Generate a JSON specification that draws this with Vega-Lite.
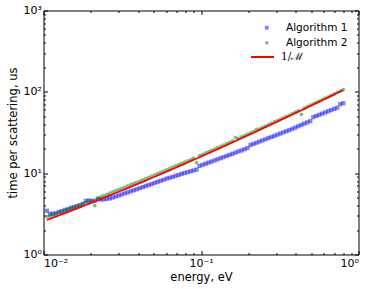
{
"$schema": "https://vega.github.io/schema/vega-lite/v6.json",
"width": 315, "height": 244,
"autosize": "none",
"padding": {"left": 43.5, "top": 10.5, "right": 15.5, "bottom": 34.5},
"background": "white",
"config": {
  "view": {"stroke": "#000", "strokeWidth": 1},
  "font": "DejaVu Sans",
  "axis": {"domain": false, "grid": false, "tickColor": "#000", "tickWidth": 1, "labelColor": "#000", "titleColor": "#000", "labelFont": "DejaVu Sans", "titleFont": "DejaVu Sans", "labelFontSize": 11, "titleFontSize": 11.5, "titleFontWeight": "normal"},
  "legend": {"labelFontSize": 10.5, "labelColor": "#000", "labelLimit": 200, "title": null}
},
"data": {"values": [
{"e":0.0105,"a1":3.45,"a2":2.92,"m":2.654},
{"e":0.01097,"a1":3.15,"a2":2.96,"m":2.740},
{"e":0.01146,"a1":3.17,"a2":3.05,"m":2.829},
{"e":0.01197,"a1":3.21,"a2":3.15,"m":2.922},
{"e":0.01251,"a1":3.35,"a2":3.25,"m":3.018},
{"e":0.01307,"a1":3.40,"a2":3.36,"m":3.117},
{"e":0.01365,"a1":3.54,"a2":3.46,"m":3.220},
{"e":0.01427,"a1":3.59,"a2":3.58,"m":3.327},
{"e":0.01490,"a1":3.75,"a2":3.70,"m":3.438},
{"e":0.01557,"a1":3.80,"a2":3.82,"m":3.553},
{"e":0.01627,"a1":3.93,"a2":3.94,"m":3.672},
{"e":0.01700,"a1":4.02,"a2":4.07,"m":3.796},
{"e":0.01776,"a1":4.20,"a2":4.21,"m":3.925},
{"e":0.01855,"a1":4.55,"a2":4.35,"m":4.058},
{"e":0.01938,"a1":4.62,"a2":4.49,"m":4.196},
{"e":0.02025,"a1":4.51,"a2":4.64,"m":4.340},
{"e":0.02115,"a1":4.58,"a2":4.00,"m":4.489},
{"e":0.02210,"a1":4.78,"a2":4.96,"m":4.644},
{"e":0.02309,"a1":4.76,"a2":5.13,"m":4.804},
{"e":0.02412,"a1":4.77,"a2":5.30,"m":4.971},
{"e":0.02521,"a1":4.84,"a2":5.49,"m":5.145},
{"e":0.02634,"a1":4.90,"a2":5.68,"m":5.324},
{"e":0.02751,"a1":5.02,"a2":5.87,"m":5.511},
{"e":0.02874,"a1":5.16,"a2":6.08,"m":5.705},
{"e":0.03003,"a1":5.32,"a2":6.28,"m":5.906},
{"e":0.03137,"a1":5.47,"a2":6.50,"m":6.116},
{"e":0.03278,"a1":5.64,"a2":6.73,"m":6.333},
{"e":0.03425,"a1":5.80,"a2":6.97,"m":6.559},
{"e":0.03578,"a1":5.98,"a2":7.21,"m":6.794},
{"e":0.03738,"a1":6.16,"a2":7.47,"m":7.037},
{"e":0.03905,"a1":6.34,"a2":7.73,"m":7.291},
{"e":0.04079,"a1":6.53,"a2":8.00,"m":7.554},
{"e":0.04262,"a1":6.73,"a2":8.29,"m":7.827},
{"e":0.04453,"a1":6.94,"a2":8.58,"m":8.112},
{"e":0.04652,"a1":7.15,"a2":8.89,"m":8.408},
{"e":0.04860,"a1":7.36,"a2":9.21,"m":8.716},
{"e":0.05078,"a1":7.59,"a2":9.54,"m":9.036},
{"e":0.05305,"a1":7.82,"a2":9.88,"m":9.368},
{"e":0.05542,"a1":8.06,"a2":10.25,"m":9.715},
{"e":0.05790,"a1":8.31,"a2":10.62,"m":10.074},
{"e":0.06049,"a1":8.57,"a2":11.00,"m":10.449},
{"e":0.06320,"a1":8.78,"a2":11.41,"m":10.838},
{"e":0.06603,"a1":8.99,"a2":11.83,"m":11.243},
{"e":0.06898,"a1":9.27,"a2":12.26,"m":11.665},
{"e":0.07207,"a1":9.50,"a2":12.72,"m":12.103},
{"e":0.07530,"a1":9.80,"a2":13.19,"m":12.559},
{"e":0.07866,"a1":10.04,"a2":13.67,"m":13.034},
{"e":0.08219,"a1":10.28,"a2":14.19,"m":13.529},
{"e":0.08586,"a1":10.53,"a2":14.72,"m":14.043},
{"e":0.08971,"a1":10.79,"a2":15.26,"m":14.578},
{"e":0.09372,"a1":11.05,"a2":13.47,"m":15.135},
{"e":0.09790,"a1":12.26,"a2":16.44,"m":15.713},
{"e":0.1023,"a1":12.65,"a2":17.05,"m":16.317},
{"e":0.1069,"a1":13.05,"a2":17.71,"m":16.946},
{"e":0.1116,"a1":13.46,"a2":18.37,"m":17.600},
{"e":0.1166,"a1":13.89,"a2":19.07,"m":18.282},
{"e":0.1219,"a1":14.34,"a2":19.81,"m":18.992},
{"e":0.1273,"a1":14.80,"a2":20.56,"m":19.730},
{"e":0.1330,"a1":15.27,"a2":21.34,"m":20.500},
{"e":0.1390,"a1":15.76,"a2":22.17,"m":21.301},
{"e":0.1452,"a1":16.27,"a2":23.02,"m":22.136},
{"e":0.1516,"a1":16.79,"a2":23.90,"m":22.998},
{"e":0.1584,"a1":17.33,"a2":24.83,"m":23.903},
{"e":0.1655,"a1":17.89,"a2":27.33,"m":24.847},
{"e":0.1729,"a1":18.47,"a2":26.79,"m":25.829},
{"e":0.1806,"a1":19.06,"a2":27.85,"m":26.852},
{"e":0.1887,"a1":19.68,"a2":28.93,"m":27.920},
{"e":0.1972,"a1":20.32,"a2":30.05,"m":29.031},
{"e":0.2060,"a1":22.19,"a2":31.25,"m":30.189},
{"e":0.2152,"a1":22.92,"a2":32.46,"m":31.395},
{"e":0.2248,"a1":23.67,"a2":34.61,"m":32.652},
{"e":0.2349,"a1":24.45,"a2":35.08,"m":33.963},
{"e":0.2454,"a1":25.26,"a2":36.46,"m":35.329},
{"e":0.2564,"a1":26.09,"a2":37.89,"m":36.753},
{"e":0.2679,"a1":26.96,"a2":39.42,"m":38.237},
{"e":0.2799,"a1":27.85,"a2":40.98,"m":39.784},
{"e":0.2924,"a1":28.77,"a2":42.60,"m":41.395},
{"e":0.3055,"a1":29.72,"a2":44.32,"m":43.076},
{"e":0.3191,"a1":30.71,"a2":46.08,"m":44.828},
{"e":0.3334,"a1":31.73,"a2":47.92,"m":46.655},
{"e":0.3483,"a1":32.78,"a2":49.87,"m":48.559},
{"e":0.3638,"a1":33.86,"a2":51.85,"m":50.534},
{"e":0.3801,"a1":35.14,"a2":53.92,"m":52.603},
{"e":0.3971,"a1":36.42,"a2":56.13,"m":54.761},
{"e":0.4149,"a1":37.80,"a2":58.38,"m":57.012},
{"e":0.4335,"a1":39.18,"a2":52.83,"m":59.358},
{"e":0.4529,"a1":40.67,"a2":63.23,"m":61.806},
{"e":0.4731,"a1":42.15,"a2":65.77,"m":64.358},
{"e":0.4943,"a1":43.76,"a2":68.43,"m":67.019},
{"e":0.5164,"a1":48.86,"a2":71.26,"m":69.795},
{"e":0.5395,"a1":50.52,"a2":74.14,"m":72.690},
{"e":0.5636,"a1":52.23,"a2":77.14,"m":75.698},
{"e":0.5888,"a1":54.01,"a2":80.34,"m":78.846},
{"e":0.6152,"a1":55.85,"a2":83.61,"m":82.131},
{"e":0.6427,"a1":57.75,"a2":87.01,"m":85.557},
{"e":0.6714,"a1":59.72,"a2":90.65,"m":89.131},
{"e":0.7015,"a1":61.75,"a2":94.35,"m":92.860},
{"e":0.7329,"a1":63.85,"a2":98.20,"m":96.749},
{"e":0.7657,"a1":70.56,"a2":102.32,"m":100.807},
{"e":0.8000,"a1":72.48,"a2":106.51,"m":105.040}
]},
"layer": [
  {
    "mark": {"type": "point", "filled": true, "size": 18, "opacity": 0.5},
    "encoding": {
      "x": {"field": "e", "type": "quantitative", "scale": {"type": "log", "domain": [0.01, 1], "nice": false},
            "axis": {"orient": "bottom", "values": [0.01, 0.1, 1], "tickSize": -4, "labelPadding": 7, "titlePadding": 3, "title": "energy, eV",
                     "labelExpr": "datum.value < 0.05 ? '10⁻²' : datum.value < 0.5 ? '10⁻¹' : '10⁰'"}},
      "y": {"field": "a1", "type": "quantitative", "scale": {"type": "log", "domain": [1, 1000], "nice": false},
            "axis": {"orient": "left", "values": [1, 10, 100, 1000], "tickSize": -4, "labelPadding": 6, "titlePadding": 5, "title": "time per scattering, us",
                     "labelExpr": "datum.value < 5 ? '10⁰' : datum.value < 50 ? '10¹' : datum.value < 500 ? '10²' : '10³'"}},
      "color": {"datum": "Algorithm 1", "type": "nominal",
                "scale": {"domain": ["Algorithm 1", "Algorithm 2"], "range": ["#0000ff", "#008000"]},
                "legend": {"orient": "none", "legendX": 218, "legendY": 12, "symbolSize": 14, "labelOffset": 14, "rowPadding": 4}},
      "shape": {"datum": "Algorithm 1", "type": "nominal",
                "scale": {"domain": ["Algorithm 1", "Algorithm 2"], "range": ["square", "circle"]},
                "legend": {"orient": "none", "legendX": 218, "legendY": 12, "symbolSize": 14, "labelOffset": 14, "rowPadding": 4}}
    }
  },
  {
    "mark": {"type": "point", "filled": true, "size": 14, "opacity": 0.5},
    "encoding": {
      "x": {"field": "e", "type": "quantitative", "scale": {"type": "log", "domain": [0.01, 1], "nice": false},
            "axis": {"orient": "bottom", "values": [0.02,0.03,0.04,0.05,0.06,0.07,0.08,0.09,0.2,0.3,0.4,0.5,0.6,0.7,0.8,0.9], "tickSize": -2, "labels": false, "title": null}},
      "y": {"field": "a2", "type": "quantitative", "scale": {"type": "log", "domain": [1, 1000], "nice": false},
            "axis": {"orient": "left", "values": [2,3,4,5,6,7,8,9,20,30,40,50,60,70,80,90,200,300,400,500,600,700,800,900], "tickSize": -2, "labels": false, "title": null}},
      "color": {"datum": "Algorithm 2", "type": "nominal"},
      "shape": {"datum": "Algorithm 2", "type": "nominal"}
    }
  },
  {
    "mark": {"type": "line", "strokeWidth": 1.8},
    "encoding": {
      "x": {"field": "e", "type": "quantitative", "scale": {"type": "log", "domain": [0.01, 1], "nice": false},
            "axis": {"orient": "top", "values": [0.01, 0.1, 1], "tickSize": -4, "labels": false, "title": null}},
      "y": {"field": "m", "type": "quantitative", "scale": {"type": "log", "domain": [1, 1000], "nice": false},
            "axis": {"orient": "right", "values": [1, 10, 100, 1000], "tickSize": -4, "labels": false, "title": null}},
      "stroke": {"datum": "1/ℳ", "type": "nominal",
                 "scale": {"domain": ["1/ℳ"], "range": ["#ff0000"]},
                 "legend": {"orient": "none", "legendX": 206.5, "legendY": 34, "symbolType": "stroke", "symbolSize": 529, "symbolStrokeWidth": 2, "labelOffset": 6, "labelFont": "DejaVu Serif"}}
    }
  },
  {
    "mark": {"type": "point", "opacity": 0},
    "encoding": {
      "x": {"field": "e", "type": "quantitative", "scale": {"type": "log", "domain": [0.01, 1], "nice": false},
            "axis": {"orient": "top", "values": [0.02,0.03,0.04,0.05,0.06,0.07,0.08,0.09,0.2,0.3,0.4,0.5,0.6,0.7,0.8,0.9], "tickSize": -2, "labels": false, "title": null}},
      "y": {"field": "m", "type": "quantitative", "scale": {"type": "log", "domain": [1, 1000], "nice": false},
            "axis": {"orient": "right", "values": [2,3,4,5,6,7,8,9,20,30,40,50,60,70,80,90,200,300,400,500,600,700,800,900], "tickSize": -2, "labels": false, "title": null}}
    }
  }
],
"resolve": {"axis": {"x": "independent", "y": "independent"}}
}
